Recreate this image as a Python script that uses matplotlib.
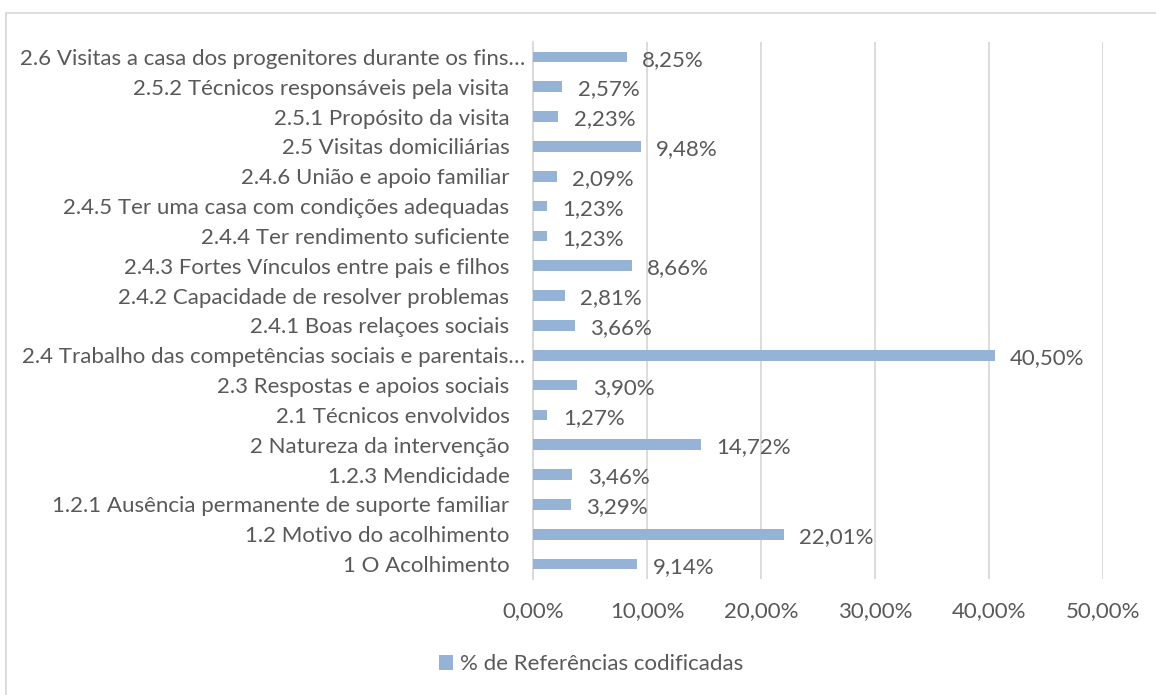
import matplotlib.pyplot as plt
from matplotlib.patches import Rectangle
import matplotlib.transforms as mtransforms

# categories listed bottom -> top, as drawn
categories = [
    "1 O Acolhimento",
    "1.2 Motivo do acolhimento",
    "1.2.1 Ausência permanente de suporte familiar",
    "1.2.3 Mendicidade",
    "2 Natureza da intervenção",
    "2.1 Técnicos envolvidos",
    "2.3 Respostas e apoios sociais",
    "2.4 Trabalho das competências sociais e parentais…",
    "2.4.1 Boas relaçoes sociais",
    "2.4.2 Capacidade de resolver problemas",
    "2.4.3 Fortes Vínculos entre pais e filhos",
    "2.4.4 Ter rendimento suficiente",
    "2.4.5 Ter uma casa com condições adequadas",
    "2.4.6 União e apoio familiar",
    "2.5 Visitas domiciliárias",
    "2.5.1 Propósito da visita",
    "2.5.2 Técnicos responsáveis pela visita",
    "2.6 Visitas a casa dos progenitores durante os fins…",
]
percentages = [9.14, 22.01, 3.29, 3.46, 14.72, 1.27, 3.90, 40.50, 3.66, 2.81,
               8.66, 1.23, 1.23, 2.09, 9.48, 2.23, 2.57, 8.25]
x_ticks = [0, 10, 20, 30, 40, 50]
series_name = "% de Referências codificadas"

BAR_COLOR = "#95B3D7"
TEXT_COLOR = "#595959"
GRID_COLOR = "#D9D9D9"
FONT_SIZE = 16

plt.rcParams['font.family'] = ['Lato', 'DejaVu Sans']

fig = plt.figure(figsize=(11.56, 6.95), dpi=100)
W, H = 1156, 695
ax = fig.add_axes([533 / W, 1 - 579 / H, (1103 - 533) / W, (579 - 42) / H])

y = list(range(len(categories)))
bars = ax.barh(y, percentages, height=0.36, color=BAR_COLOR, label=series_name, zorder=3)

ax.set_xlim(0, 50)
ax.set_ylim(-0.5, len(categories) - 0.5)
ax.set_xticks(x_ticks)
ax.set_xticklabels([f"{t:.2f}%".replace(".", ",") for t in x_ticks])
ax.set_yticks(y)
ax.set_yticklabels(categories)
ax.tick_params(axis='both', length=0, colors=TEXT_COLOR, labelsize=FONT_SIZE)
ax.tick_params(axis='y', pad=17)
ax.tick_params(axis='x', pad=16)

# Excel lets the truncated labels run a bit closer to the axis
shift = mtransforms.ScaledTranslation(16 / 100, 0, fig.dpi_scale_trans)
for lbl in ax.get_yticklabels():
    if lbl.get_text().endswith("…"):
        lbl.set_transform(lbl.get_transform() + shift)

ax.grid(axis='x', color=GRID_COLOR, linewidth=1.3, zorder=0)
for side in ['top', 'right', 'bottom']:
    ax.spines[side].set_visible(False)
ax.spines['left'].set_color(GRID_COLOR)
ax.spines['left'].set_linewidth(1.3)

# data labels
for bar, val in zip(bars, percentages):
    ax.annotate(f"{val:.2f}%".replace(".", ","),
                xy=(bar.get_width(), bar.get_y() + bar.get_height() / 2),
                xytext=(11, -2), textcoords='offset points',
                ha='left', va='center', fontsize=FONT_SIZE, color=TEXT_COLOR)

# legend below the plot
handles, labels = ax.get_legend_handles_labels()
fig.legend(handles, labels, loc='center', bbox_to_anchor=(591 / W, 1 - 664 / H),
           frameon=False, fontsize=FONT_SIZE, labelcolor=TEXT_COLOR,
           handlelength=0.65, handleheight=0.65, handletextpad=0.3)

# chart area border (only left/top visible in the crop)
fig.patches.append(Rectangle((6 / W, -0.1), 1.2, 1 - 13 / H + 0.1,
                             transform=fig.transFigure, fill=False,
                             edgecolor=GRID_COLOR, linewidth=1.3))

fig.savefig("out.png", dpi=100)
